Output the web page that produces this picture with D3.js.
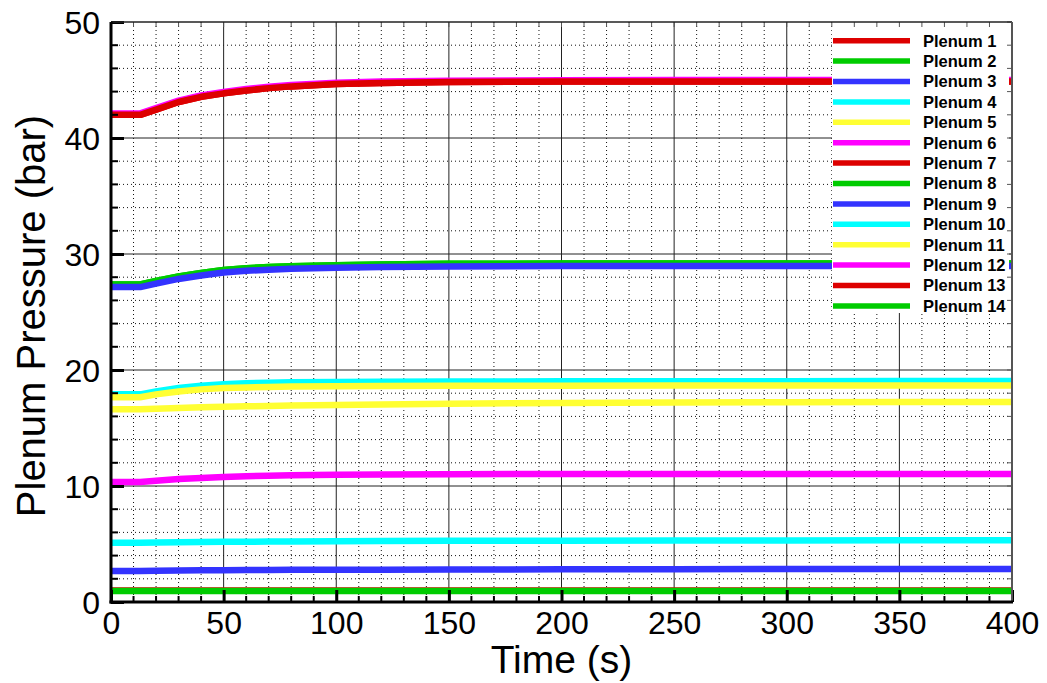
<!DOCTYPE html>
<html>
<head>
<meta charset="utf-8">
<script src="https://cdn.jsdelivr.net/npm/d3@7"></script>
<style>
  html, body { margin: 0; padding: 0; background: #fff; }
  svg { display: block; font-family: "Liberation Sans", Arial, sans-serif; }
</style>
</head>
<body>
<svg id="chart" width="1047" height="683"></svg>
<script>
// Sample times (s)
const times = [0, 13, 20, 30, 40, 50, 60, 70, 80, 100, 120, 150, 200, 250, 300, 350, 400];

// Plenum pressures (bar) at each sample time
const plenum1  = [42.0, 42.0, 42.45, 43.1, 43.55, 43.85, 44.1, 44.3, 44.45, 44.65, 44.75, 44.82, 44.86, 44.87, 44.87, 44.87, 44.87];
const plenum2  = [27.37, 27.37, 27.67, 28.07, 28.37, 28.62, 28.77, 28.87, 28.94, 29.04, 29.1, 29.15, 29.18, 29.19, 29.19, 29.19, 29.19];
const plenum3  = [2.67, 2.67, 2.69, 2.71, 2.73, 2.74, 2.75, 2.76, 2.77, 2.78, 2.79, 2.8, 2.82, 2.83, 2.84, 2.84, 2.84];
const plenum4  = [17.9, 17.9, 18.15, 18.45, 18.65, 18.78, 18.86, 18.91, 18.94, 18.97, 18.99, 19.0, 19.02, 19.03, 19.04, 19.05, 19.05];
const plenum5  = [17.65, 17.65, 17.9, 18.15, 18.33, 18.44, 18.5, 18.54, 18.57, 18.6, 18.62, 18.64, 18.65, 18.66, 18.66, 18.67, 18.67];
const plenum6  = [42.12, 42.12, 42.57, 43.22, 43.67, 43.97, 44.22, 44.42, 44.57, 44.77, 44.87, 44.94, 44.98, 44.99, 44.99, 44.99, 44.99];
const plenum7  = [42.0, 42.0, 42.45, 43.1, 43.55, 43.85, 44.1, 44.3, 44.45, 44.65, 44.75, 44.82, 44.86, 44.87, 44.87, 44.87, 44.87];
const plenum8  = [27.37, 27.37, 27.67, 28.07, 28.37, 28.62, 28.77, 28.87, 28.94, 29.04, 29.1, 29.15, 29.18, 29.19, 29.19, 29.19, 29.19];
const plenum9  = [27.15, 27.15, 27.45, 27.85, 28.15, 28.4, 28.55, 28.65, 28.72, 28.82, 28.88, 28.93, 28.96, 28.97, 28.97, 28.97, 28.97];
const plenum10 = [5.1, 5.1, 5.12, 5.15, 5.17, 5.19, 5.2, 5.21, 5.22, 5.24, 5.25, 5.27, 5.29, 5.3, 5.31, 5.32, 5.32];
const plenum11 = [16.62, 16.62, 16.66, 16.72, 16.78, 16.83, 16.87, 16.9, 16.93, 16.98, 17.03, 17.1, 17.16, 17.2, 17.22, 17.24, 17.25];
const plenum12 = [10.35, 10.35, 10.45, 10.6, 10.7, 10.78, 10.84, 10.88, 10.92, 10.97, 11.0, 11.02, 11.03, 11.04, 11.04, 11.04, 11.04];
const plenum13 = [0.99, 0.99, 0.99, 0.99, 0.99, 0.99, 0.99, 0.99, 0.99, 0.99, 0.99, 0.99, 0.99, 0.99, 0.99, 0.99, 0.99];
const plenum14 = [0.94, 0.94, 0.94, 0.94, 0.94, 0.94, 0.94, 0.94, 0.94, 0.94, 0.94, 0.94, 0.94, 0.94, 0.94, 0.94, 0.94];

const seriesNames = ["Plenum 1", "Plenum 2", "Plenum 3", "Plenum 4", "Plenum 5", "Plenum 6", "Plenum 7",
                     "Plenum 8", "Plenum 9", "Plenum 10", "Plenum 11", "Plenum 12", "Plenum 13", "Plenum 14"];
const seriesValues = [plenum1, plenum2, plenum3, plenum4, plenum5, plenum6, plenum7,
                      plenum8, plenum9, plenum10, plenum11, plenum12, plenum13, plenum14];

const xTickValues = [0, 50, 100, 150, 200, 250, 300, 350, 400];
const yTickValues = [0, 10, 20, 30, 40, 50];

// Cycling line palette
const palette = ["#dd0000", "#00cc00", "#3333ff", "#00ffff", "#ffff33", "#ff00ff"];

const svg = d3.select("#chart");
const L = 111, R = 1012, T = 22, B = 602;

const x = d3.scaleLinear().domain([0, 400]).range([L, R]);
const y = d3.scaleLinear().domain([0, 50]).range([B, T]);

// Minor grid (dotted)
const minorX = d3.range(0, 401, 10).filter(v => v % 50 !== 0);
const minorY = d3.range(0, 51, 2).filter(v => v % 10 !== 0);
const grid = svg.append("g");
grid.selectAll(".mx").data(minorX).join("line")
  .attr("x1", d => x(d)).attr("x2", d => x(d)).attr("y1", T).attr("y2", B)
  .attr("stroke", "#111").attr("stroke-width", 1).attr("stroke-dasharray", "1,3");
grid.selectAll(".my").data(minorY).join("line")
  .attr("x1", L).attr("x2", R).attr("y1", d => y(d)).attr("y2", d => y(d))
  .attr("stroke", "#111").attr("stroke-width", 1).attr("stroke-dasharray", "1,3");

// Major grid (solid)
grid.selectAll(".Mx").data(xTickValues.slice(1, -1)).join("line")
  .attr("x1", d => x(d)).attr("x2", d => x(d)).attr("y1", T).attr("y2", B)
  .attr("stroke", "#222").attr("stroke-width", 1);
grid.selectAll(".My").data(yTickValues.slice(1, -1)).join("line")
  .attr("x1", L).attr("x2", R).attr("y1", d => y(d)).attr("y2", d => y(d))
  .attr("stroke", "#222").attr("stroke-width", 1);

// Series lines
svg.append("clipPath").attr("id", "plotClip")
  .append("rect").attr("x", L).attr("y", T).attr("width", R - L).attr("height", B - T);

const line = d3.line().x(d => x(d[0])).y(d => y(d[1]));
svg.append("g").attr("clip-path", "url(#plotClip)")
  .selectAll("path").data(seriesValues).join("path")
  .attr("d", vals => line(vals.map((v, i) => [times[i], v])))
  .attr("fill", "none")
  .attr("stroke", (d, i) => palette[i % palette.length])
  .attr("stroke-width", 6.5)
  .attr("stroke-linejoin", "round");

// Legend
const legend = svg.append("g");
legend.append("rect").attr("x", 832).attr("y", T).attr("width", 177).attr("height", 291).attr("fill", "#fff");
const rowY = i => 40.7 + i * 20.4;
legend.selectAll("line").data(seriesNames).join("line")
  .attr("x1", 833).attr("x2", 910)
  .attr("y1", (d, i) => rowY(i)).attr("y2", (d, i) => rowY(i))
  .attr("stroke", (d, i) => palette[i % palette.length]).attr("stroke-width", 5.5);
legend.selectAll("text").data(seriesNames).join("text")
  .attr("x", 923).attr("y", (d, i) => rowY(i) + 5.8)
  .attr("font-size", 16.5).attr("font-weight", "bold").attr("fill", "#000")
  .text(d => d);

// Axes with inward ticks
const axes = svg.append("g");
const bottomAxis = d3.axisBottom(x).tickValues(xTickValues).tickSize(-12).tickPadding(9).tickFormat(d3.format("d"));
const leftAxis = d3.axisLeft(y).tickValues(yTickValues).tickSize(-13).tickPadding(11).tickFormat(d3.format("d"));

const gx = axes.append("g").attr("transform", `translate(0,${B})`).call(bottomAxis);
const gy = axes.append("g").attr("transform", `translate(${L},0)`).call(leftAxis);
[gx, gy].forEach(g => {
  g.select(".domain").remove();
  g.selectAll(".tick line").attr("stroke", "#000").attr("stroke-width", 3);
  g.selectAll(".tick text").attr("font-size", 32).attr("fill", "#000")
    .attr("font-family", "\"Liberation Sans\", Arial, sans-serif");
});
gy.selectAll(".tick text").attr("dy", "0.36em");
gx.selectAll(".tick text").attr("dy", "0.72em");

// Minor ticks on all four sides
axes.selectAll(".mtb").data(minorX).join("line")
  .attr("x1", d => x(d)).attr("x2", d => x(d)).attr("y1", B).attr("y2", B - 6)
  .attr("stroke", "#000").attr("stroke-width", 2);
axes.selectAll(".mtl").data(minorY).join("line")
  .attr("x1", L).attr("x2", L + 7).attr("y1", d => y(d)).attr("y2", d => y(d))
  .attr("stroke", "#000").attr("stroke-width", 2);
axes.selectAll(".mtr").data(d3.range(0, 51, 2)).join("line")
  .attr("x1", R).attr("x2", R - 5).attr("y1", d => y(d)).attr("y2", d => y(d))
  .attr("stroke", "#555").attr("stroke-width", 1);
axes.selectAll(".mtt").data(d3.range(0, 401, 10)).join("line")
  .attr("x1", d => x(d)).attr("x2", d => x(d)).attr("y1", T).attr("y2", T + 5)
  .attr("stroke", "#555").attr("stroke-width", 1);

// Frame
axes.append("line").attr("x1", L).attr("x2", R).attr("y1", T).attr("y2", T).attr("stroke", "#222").attr("stroke-width", 1.5);
axes.append("line").attr("x1", R).attr("x2", R).attr("y1", T).attr("y2", B).attr("stroke", "#555").attr("stroke-width", 2);
axes.append("line").attr("x1", L - 1.5).attr("x2", R + 1).attr("y1", B).attr("y2", B).attr("stroke", "#000").attr("stroke-width", 3);
axes.append("line").attr("x1", L).attr("x2", L).attr("y1", T).attr("y2", B + 1.5).attr("stroke", "#000").attr("stroke-width", 3);

// Axis titles
svg.append("text").attr("x", (L + R) / 2).attr("y", 673).attr("text-anchor", "middle")
  .attr("font-size", 39).attr("fill", "#000").text("Time (s)");
svg.append("text").attr("transform", `translate(45,${(T + B) / 2 + 4}) rotate(-90)`).attr("text-anchor", "middle")
  .attr("font-size", 40).attr("fill", "#000").text("Plenum Pressure (bar)");
</script>
</body>
</html>
